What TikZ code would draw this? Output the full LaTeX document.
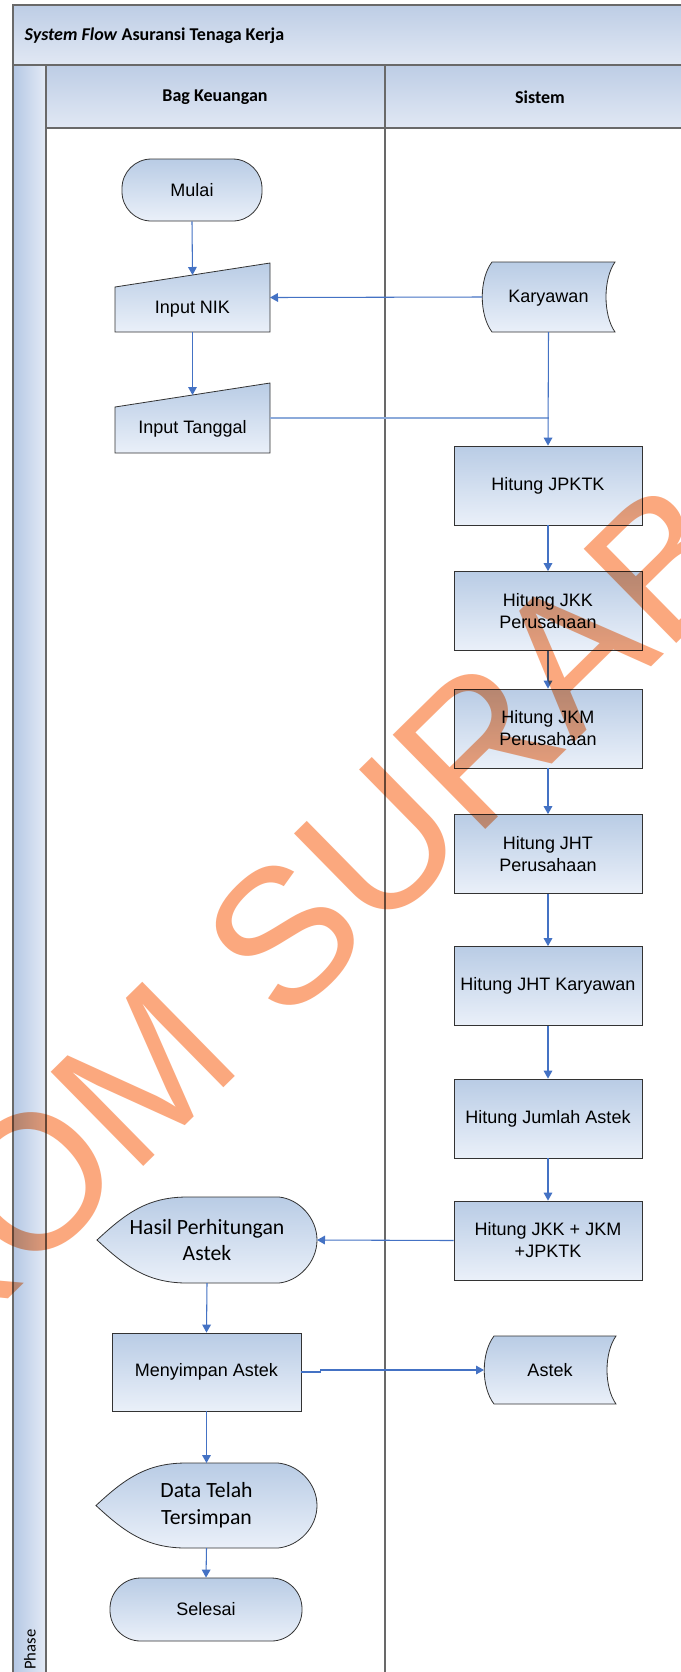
\documentclass[tikz,border=0pt]{standalone}
\usepackage{fontspec}
\setmainfont{Liberation Sans}
\newfontfamily\calibri{Carlito}
\usetikzlibrary{arrows.meta,calc}
\definecolor{fillTop}{RGB}{185,204,229}
\definecolor{fillBot}{RGB}{234,240,249}
\definecolor{flow}{RGB}{68,114,196}
\definecolor{flowlight}{RGB}{140,170,218}
\definecolor{wmark}{RGB}{251,168,126}
\definecolor{frameline}{RGB}{105,105,105}
\definecolor{bandTop}{RGB}{189,205,229}
\definecolor{bandBot}{RGB}{225,232,244}
\definecolor{stripDark}{RGB}{180,199,228}
\definecolor{stripLight}{RGB}{228,235,246}
\newcommand\displayshape[1]{%
  \path[shapefill] (#1.west) .. controls ($(#1.west)+(28,-26)$) and ($(#1.north west)+(50,0)$) .. ($(#1.north west)+(90,0)$)
    -- ($(#1.north west)+(182,0)$) .. controls ($(#1.north east)+(-18,2)$) and ($(#1.east)+(0,-22)$) .. (#1.east)
    .. controls ($(#1.east)+(0,22)$) and ($(#1.south east)+(-18,-2)$) .. ($(#1.south west)+(182,0)$)
    -- ($(#1.south west)+(90,0)$) .. controls ($(#1.south west)+(50,0)$) and ($(#1.west)+(28,26)$) .. (#1.west) -- cycle;}
\newcommand\storedshape[1]{%
  \path[shapefill] ($(#1.north west)+(10,0)$) -- (#1.north east)
    .. controls ($(#1.north east)+(-12,17)$) and ($(#1.south east)+(-12,-17)$) .. (#1.south east)
    -- ($(#1.south west)+(10,0)$) .. controls ($(#1.south west)+(-3,-17)$) and ($(#1.north west)+(-3,17)$) .. ($(#1.north west)+(10,0)$) -- cycle;}
\newcommand\manualshape[1]{%
  \path[shapefill] ($(#1.north west)+(0,24)$) -- (#1.north east) -- (#1.south east) -- (#1.south west) -- cycle;}
\begin{document}
\begin{tikzpicture}[x=0.75pt,y=-0.75pt,
  shapefill/.style={draw=black!80,line width=0.6pt,top color=fillTop,bottom color=fillBot},
  txt/.style={font=\fontsize{13.5}{16.5}\selectfont,align=center},
  ctxt/.style={font=\calibri\fontsize{16.3}{20}\selectfont,align=center},
  procbox/.style={shapefill,txt,rectangle,minimum width=141pt,minimum height=59.25pt,inner sep=0pt},
  termbox/.style={shapefill,txt,rectangle,rounded corners=22pt,inner sep=0pt},
  ghost/.style={rectangle,inner sep=0pt,outer sep=0pt},
  flowarrow/.style={draw=flow,line width=0.8pt,-{Triangle[length=6pt,width=6.5pt]}},
  flowline/.style={draw=flowlight,line width=0.9pt},
  lanehead/.style={font=\calibri\bfseries\fontsize{13.5}{16}\selectfont},
]
\useasboundingbox (0,0) rectangle (681,1672);
\clip (0,0) rectangle (681,1672);
\fill[white] (0,0) rectangle (681,1672);
% pool, lanes
\shade[top color=bandTop,bottom color=bandBot] (13,5) rectangle (700,65);
\shade[top color=bandTop,bottom color=bandBot] (46,65) rectangle (700,128);
\shade[left color=stripDark,right color=stripLight] (13,65) rectangle (46,1680);
\draw[frameline,line width=0.8pt] (13,1680) -- (13,5) -- (700,5);
\draw[frameline,line width=0.8pt] (13,65) -- (700,65);
\draw[frameline,line width=0.8pt] (46,65) -- (46,1680);
\draw[frameline,line width=0.8pt] (46,128) -- (700,128);
\draw[frameline,line width=0.8pt] (385,65) -- (385,1680);
\node[anchor=west,lanehead] (title) at (20,36) {\textit{System Flow} Asuransi Tenaga Kerja};
\node[lanehead] (hbag) at (215,97) {Bag Keuangan};
\node[lanehead] (hsis) at (540,97) {Sistem};
\node[rotate=90,anchor=west,inner sep=0pt,font=\calibri\fontsize{12.5}{15}\selectfont] (phase) at (30,1670) {Phase};
% left lane
\node[termbox,minimum width=105pt,minimum height=46.5pt] (mulai) at (192,190) {Mulai};
\node[ghost,minimum width=116.25pt,minimum height=51.75pt] (nik) at (192.5,297.5) {};
\manualshape{nik}
\node[txt] (nikt) at ($(nik.center)+(0,12)$) {Input NIK};
\node[ghost,minimum width=116.25pt,minimum height=52.5pt] (tgl) at (192.5,418) {};
\manualshape{tgl}
\node[txt] (tglt) at ($(tgl.center)+(0,11)$) {Input Tanggal};
% right lane
\node[ghost,minimum width=99.75pt,minimum height=52.5pt] (kar) at (548.5,297) {};
\storedshape{kar}
\node[txt] (kart) at ($(kar.center)+(0,1)$) {Karyawan};
\node[procbox] (jpktk) at (548,485.5) {Hitung JPKTK};
\node[procbox] (jkk) at (548,611) {Hitung JKK\\Perusahaan};
\node[procbox] (jkm) at (548,728.5) {Hitung JKM\\Perusahaan};
\node[procbox] (jhtp) at (548,854) {Hitung JHT\\Perusahaan};
\node[procbox] (jhtk) at (548,986) {Hitung JHT Karyawan};
\node[procbox] (jml) at (548,1118.5) {Hitung Jumlah Astek};
\node[procbox] (jtot) at (548,1240.5) {Hitung JKK + JKM\\+JPKTK};
% lower left
\node[ghost,minimum width=165pt,minimum height=64.5pt] (hasil) at (207,1240) {};
\displayshape{hasil}
\node[ctxt] (hasilt) at (hasil.center) {Hasil Perhitungan\\Astek};
\node[procbox,minimum width=141.75pt,minimum height=58.5pt] (simpan) at (206.5,1372) {Menyimpan Astek};
\node[ghost,minimum width=99pt,minimum height=51pt] (astek) at (550,1370) {};
\storedshape{astek}
\node[txt] (astekt) at (astek.center) {Astek};
\node[ghost,minimum width=165.75pt,minimum height=63.75pt] (data) at (206.5,1505.5) {};
\displayshape{data}
\node[ctxt] (datat) at (data.center) {Data Telah\\Tersimpan};
\node[termbox,minimum width=144pt,minimum height=47.25pt,rounded corners=23pt] (selesai) at (206,1609.5) {Selesai};
% connectors
\draw[flowarrow] (mulai.south) -- ($(nik.north)+(0,12)$);
\draw[flowarrow] (nik.south) -- ($(tgl.north)+(0,12)$);
\draw[flowarrow] (kar.west) -- (nik.east);
\draw[flowline] (tgl.east) -- (tgl.east -| kar.south);
\draw[flowarrow] (kar.south) -- (jpktk.north);
\draw[flowarrow] (jpktk.south) -- (jkk.north);
\draw[flowarrow] (jkk.south) -- (jkm.north);
\draw[flowarrow] (jkm.south) -- (jhtp.north);
\draw[flowarrow] (jhtp.south) -- (jhtk.north);
\draw[flowarrow] (jhtk.south) -- (jml.north);
\draw[flowarrow] (jml.south) -- (jtot.north);
\draw[flowarrow] (jtot.west) -- (hasil.east);
\draw[flowarrow] (hasil.south) -- (simpan.north);
\draw[flowarrow] (simpan.east) -- ++(19,0) |- (astek.west);
\draw[flowarrow] (simpan.south) -- (data.north);
\draw[flowarrow] (data.south) -- (selesai.north);
% watermark
\begin{scope}[blend mode=multiply]
\node[rotate=44.5,anchor=base,text=wmark,inner sep=0pt,font=\fontsize{144}{144}\selectfont] (wm) at (366,948) {STIKOM SURABAYA};
\end{scope}
\end{tikzpicture}
\end{document}
